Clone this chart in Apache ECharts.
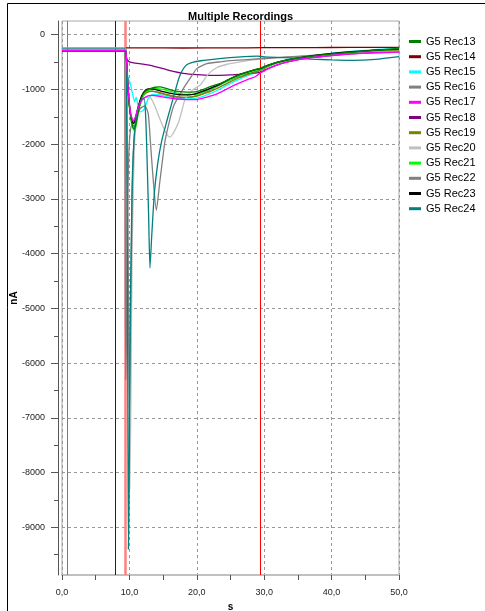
<!DOCTYPE html>
<html><head><meta charset="utf-8">
<script src="https://cdn.jsdelivr.net/npm/echarts@6/dist/echarts.min.js"></script>
<style>html,body{margin:0;padding:0;background:#fff;}#c{width:485px;height:611px;}</style>
</head><body><div id="c"></div>
<script>
const FONT = "'Liberation Sans', Arial, sans-serif";

const seriesNames = ['G5 Rec13','G5 Rec14','G5 Rec15','G5 Rec16','G5 Rec17','G5 Rec18','G5 Rec19','G5 Rec20','G5 Rec21','G5 Rec22','G5 Rec23','G5 Rec24'];
const seriesColors = ['#008000','#800000','#00ffff','#808080','#ff00ff','#800080','#808000','#c0c0c0','#00ff00','#808080','#000000','#008080'];

const rec13 = [[0,-300],[9.4,-300],[9.55,-420],[9.75,-900],[9.95,-1250],[10.2,-1500],[10.45,-1660],[10.7,-1720],[10.95,-1640],[11.3,-1420],[11.8,-1150],[12.3,-1040],[13.0,-990],[13.8,-960],[14.5,-955],[15.3,-975],[16.5,-1020],[18.0,-1045],[19.2,-1050],[20.5,-1020],[22.0,-950],[23.5,-890],[25.0,-800],[26.5,-720],[28.3,-650],[29.5,-610],[30.5,-560],[32.0,-500],[34.0,-445],[36.5,-400],[39.0,-365],[42.0,-330],[45.0,-300],[47.5,-275],[50.0,-255]];
const rec14 = [[0,-245],[9.4,-245],[9.6,-240],[12,-240],[18,-243],[25,-242],[30,-238],[35,-236],[40,-234],[45,-232],[50,-230]];
const rec15 = [[0,-240],[9.4,-240],[9.55,-450],[9.7,-700],[9.84,-800],[10.05,-860],[10.3,-990],[10.6,-1150],[10.8,-1230],[11.0,-1140],[11.2,-1250],[11.6,-1410],[12.1,-1380],[12.5,-1260],[12.8,-1170],[13.5,-1090],[14.5,-1100],[15.5,-1130],[17.0,-1160],[18.5,-1175],[20.0,-1160],[21.5,-1100],[23.0,-1020],[24.5,-920],[26.0,-830],[27.5,-750],[29.0,-680],[29.5,-650],[30.5,-590],[32.0,-510],[34.0,-445],[36.5,-395],[39.0,-355],[42.0,-315],[45.0,-285],[47.5,-265],[50.0,-250]];
const rec16 = [[0,-285],[9.3,-285],[9.38,-3500],[9.45,-6300],[9.55,-5600],[9.7,-3500],[9.9,-2200],[10.2,-1700],[10.5,-1620],[10.8,-1560],[11.2,-1380],[11.8,-1160],[12.5,-1060],[13.3,-1030],[14.5,-1070],[16.0,-1120],[18.0,-1150],[20.0,-1120],[22.0,-1010],[24.0,-880],[26.0,-780],[28.0,-700],[29.5,-640],[30.5,-580],[32.0,-510],[34.0,-450],[37.0,-400],[40.0,-365],[43.0,-335],[46.0,-310],[50.0,-290]];
const rec17 = [[0,-287],[9.4,-287],[9.55,-400],[9.75,-850],[9.95,-1200],[10.2,-1440],[10.45,-1540],[10.65,-1570],[10.9,-1500],[11.3,-1330],[11.8,-1200],[12.5,-1130],[13.3,-1108],[14.2,-1120],[15.5,-1150],[17.0,-1175],[18.5,-1185],[20.0,-1186],[21.5,-1140],[23.0,-1080],[24.5,-990],[26.0,-900],[27.5,-820],[28.6,-773],[29.4,-700],[29.6,-690],[30.0,-660],[31.0,-600],[32.5,-530],[34.5,-470],[37.0,-420],[40.0,-380],[43.0,-350],[46.0,-330],[50.0,-318]];
const rec18 = [[0,-290],[9.4,-290],[9.5,-380],[9.65,-450],[10.1,-500],[11.5,-530],[13.1,-560],[15.0,-620],[16.5,-670],[18.0,-705],[20.0,-730],[22.0,-745],[25.0,-735],[27.5,-710],[29.4,-690],[30.0,-650],[31.0,-595],[32.5,-530],[34.5,-470],[37.0,-420],[40.0,-380],[43.0,-350],[46.0,-325],[50.0,-310]];
const rec19 = [[0,-290],[9.4,-290],[9.55,-420],[9.75,-900],[9.95,-1230],[10.2,-1480],[10.45,-1630],[10.7,-1680],[10.95,-1600],[11.3,-1400],[11.8,-1170],[12.5,-1060],[13.3,-1030],[14.3,-1050],[15.5,-1090],[17.0,-1130],[18.5,-1145],[20.0,-1120],[21.5,-1060],[23.0,-980],[24.5,-890],[26.0,-800],[27.5,-730],[29.0,-670],[29.5,-650],[30.5,-580],[32.0,-510],[34.0,-455],[36.5,-405],[39.0,-370],[42.0,-335],[45.0,-310],[47.5,-295],[50.0,-285]];
const rec20 = [[0,-285],[9.4,-285],[9.6,-1500],[9.85,-5000],[10.05,-8300],[10.2,-7000],[10.4,-4000],[10.7,-2200],[11.0,-1600],[11.5,-1300],[12.2,-1150],[13.0,-1140],[13.7,-1280],[14.3,-1470],[15.0,-1680],[15.6,-1830],[16.0,-1870],[16.5,-1800],[17.3,-1600],[17.8,-1380],[18.2,-1200],[18.8,-1080],[19.5,-1000],[20.5,-920],[21.7,-720],[23.0,-600],[24.5,-540],[26.0,-505],[28.0,-465],[29.4,-445],[32.0,-420],[35.0,-395],[38.0,-375],[41.0,-355],[44.0,-335],[47.0,-315],[50.0,-300]];
const rec21 = [[0,-295],[9.4,-295],[9.55,-420],[9.75,-880],[9.95,-1250],[10.2,-1520],[10.45,-1690],[10.75,-1750],[11.0,-1660],[11.3,-1450],[11.8,-1180],[12.4,-1050],[13.2,-1000],[14.0,-985],[15.0,-1000],[16.5,-1050],[18.0,-1085],[19.5,-1090],[20.5,-1070],[22.0,-990],[23.5,-910],[25.0,-820],[26.5,-740],[28.3,-665],[29.5,-625],[30.5,-570],[32.0,-505],[34.0,-450],[36.5,-400],[39.0,-365],[42.0,-330],[45.0,-300],[47.5,-280],[50.0,-265]];
const rec22 = [[0,-285],[9.5,-285],[9.65,-1500],[9.85,-4500],[10.0,-6800],[10.15,-5500],[10.4,-3000],[10.7,-1900],[11.1,-1500],[11.6,-1350],[12.3,-1300],[12.8,-1450],[13.1,-1930],[13.5,-2600],[14.0,-3210],[14.5,-2700],[15.0,-2200],[15.3,-1930],[16.0,-1550],[16.6,-1290],[17.4,-1110],[18.0,-985],[19.0,-800],[20.0,-620],[21.5,-530],[23.5,-495],[25.5,-470],[29.4,-440],[32.0,-420],[35.0,-395],[38.0,-375],[41.0,-355],[44.0,-340],[47.0,-330],[50.0,-320]];
const rec23 = [[0,-290],[9.4,-290],[9.55,-420],[9.75,-880],[9.95,-1230],[10.2,-1480],[10.45,-1600],[10.65,-1620],[10.9,-1530],[11.3,-1320],[11.8,-1120],[12.4,-1010],[13.0,-985],[13.8,-1000],[15.0,-1040],[16.5,-1080],[18.0,-1100],[19.5,-1090],[20.5,-1050],[22.0,-980],[23.5,-900],[25.0,-800],[26.5,-720],[28.3,-650],[29.5,-615],[30.5,-560],[32.0,-500],[34.0,-445],[36.5,-395],[39.0,-355],[42.0,-320],[45.0,-295],[47.5,-275],[50.0,-265]];
const rec24 = [[0,-285],[9.5,-285],[9.6,-1500],[9.75,-6000],[9.85,-9400],[9.95,-8500],[10.1,-5500],[10.4,-2800],[10.8,-1700],[11.3,-1350],[11.8,-1180],[12.2,-1170],[12.45,-1600],[12.65,-2400],[12.85,-3300],[13.05,-4260],[13.3,-3700],[13.7,-2900],[14.2,-2350],[14.8,-1935],[15.5,-1600],[16.2,-1290],[16.9,-980],[17.5,-740],[18.4,-560],[19.5,-500],[21.0,-470],[23.0,-440],[26.0,-410],[29.0,-390],[30.0,-405],[33.0,-420],[37.0,-445],[40.0,-460],[43.0,-468],[46.5,-450],[50.0,-400]];

const seriesData = [rec13,rec14,rec15,rec16,rec17,rec18,rec19,rec20,rec21,rec22,rec23,rec24];
const seriesZ = [4,3,3,3,5,3,3,3,3,3,3,3];

const yLabelValues = [-9000,-8000,-7000,-6000,-5000,-4000,-3000,-2000,-1000,0];
const yMinorValues = [-9500,-8500,-7500,-6500,-5500,-4500,-3500,-2500,-1500,-500];
const markerTimes = [0.83, 7.95, 9.35, 29.45];
const markerColors = ['#6a6aff','#1010c0','#ff8080','#ff0000'];
const markerWidths = [1, 1, 2.5, 1];

const chart = echarts.init(document.getElementById('c'), null, {renderer:'canvas'});

const series = seriesData.map((d, i) => ({
  name: seriesNames[i], type: 'line', data: d, xAxisIndex: 0, yAxisIndex: 0,
  symbol: 'none', showSymbol: false, smooth: 0.2, z: seriesZ[i],
  lineStyle: { width: 1.3, color: seriesColors[i] }, itemStyle: { color: seriesColors[i] },
  emphasis: { disabled: true }
}));
series.push({
  name: 'markers', type: 'line', data: [], xAxisIndex: 0, yAxisIndex: 0,
  markLine: {
    silent: true, symbol: ['none','none'], z: 1, label: { show: false }, animation: false,
    data: markerTimes.map((t, i) => ({ xAxis: t, lineStyle: { color: markerColors[i], width: markerWidths[i], type: 'solid' } }))
  }
});

chart.setOption({
  animation: false,
  backgroundColor: '#fff',
  title: { text: 'Multiple Recordings', left: 183, top: 6, textStyle: { fontFamily: FONT, fontSize: 11, fontWeight: 'bold', color: '#000' } },
  legend: {
    orient: 'vertical', left: 404, top: 31, itemWidth: 12, itemHeight: 3, itemGap: 4.2, icon: 'rect',
    data: seriesNames, selectedMode: false,
    textStyle: { fontFamily: FONT, fontSize: 11, color: '#000' }
  },
  grid: { left: 62, right: 86, top: 21, bottom: 36, show: true, borderColor: '#a8a8a8', borderWidth: 1, containLabel: false, outerBoundsMode: 'none' },
  xAxis: {
    type: 'value', min: 0, max: 50, interval: 10,
    name: 's', nameLocation: 'middle', nameGap: 27, nameMoveOverlap: false,
    nameTextStyle: { fontFamily: FONT, fontSize: 10, fontWeight: 'bold', color: '#000' },
    axisLine: { onZero: false, lineStyle: { color: '#c0c0c0', width: 2 } },
    axisTick: { length: 5, lineStyle: { color: '#555' } },
    minorTick: { show: true, splitNumber: 2, length: 5, lineStyle: { color: '#555' } },
    axisLabel: { fontFamily: FONT, fontSize: 9, color: '#222', margin: 13, formatter: v => v.toFixed(1).replace('.', ',') },
    splitLine: { show: true, lineStyle: { type: [3,3], color: '#999' } }
  },
  yAxis: [{
    type: 'value', min: -9870, max: 250, position: 'left', offset: 4,
    name: 'nA', nameLocation: 'middle', nameGap: 39, nameMoveOverlap: false,
    nameTextStyle: { fontFamily: FONT, fontSize: 10, fontWeight: 'bold', color: '#000' },
    axisLine: { show: true, onZero: false, lineStyle: { color: '#555' } },
    axisTick: { show: true, length: 7, customValues: yLabelValues, lineStyle: { color: '#555' } },
    axisLabel: { customValues: yLabelValues, fontFamily: FONT, fontSize: 9, color: '#222', margin: 13, formatter: v => String(v) },
    splitLine: { show: true, lineStyle: { type: [3,3], color: '#999' } }
  }, {
    type: 'value', min: -9870, max: 250, position: 'left', offset: 4,
    axisLine: { show: false, onZero: false },
    axisTick: { show: true, length: 4, customValues: yMinorValues, lineStyle: { color: '#555' } },
    axisLabel: { show: false },
    splitLine: { show: false }
  }],
  graphic: [
    { type: 'line', silent: true, shape: { x1: 7.5, y1: 3.5, x2: 7.5, y2: 611 }, style: { stroke: '#000', lineWidth: 1 } },
    { type: 'line', silent: true, shape: { x1: 7.5, y1: 3.5, x2: 485, y2: 3.5 }, style: { stroke: '#000', lineWidth: 1 } }
  ],
  series: series
});
</script></body></html>
